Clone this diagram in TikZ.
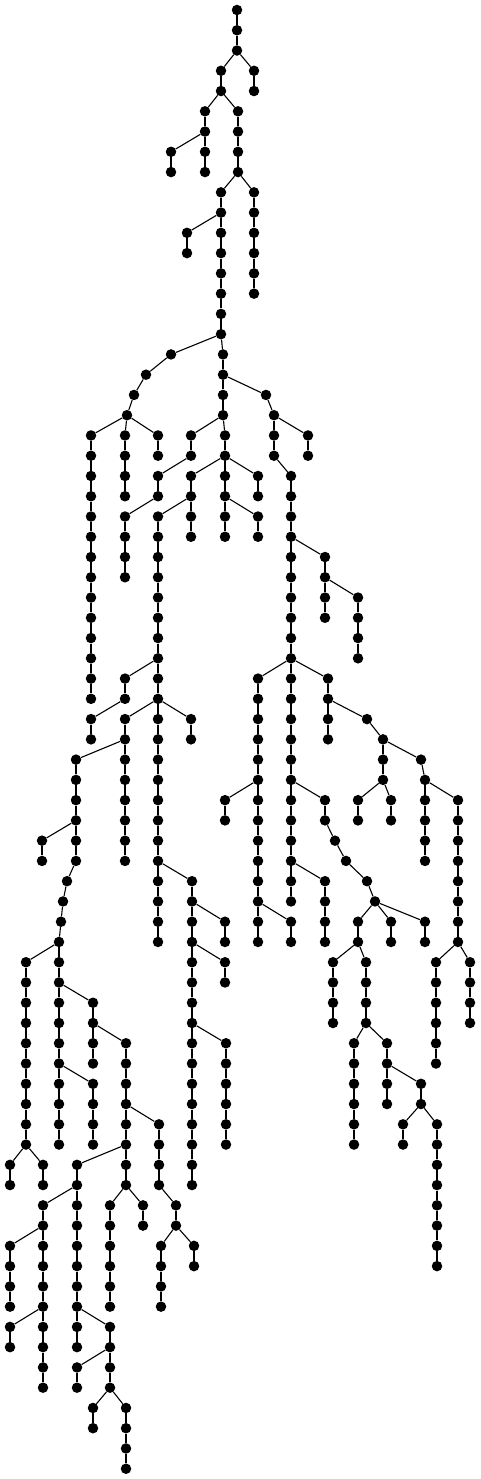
\documentclass[tikz,border=0pt]{standalone}
\usepackage{tikz}

\begin{document}
\begin{tikzpicture}[x=1pt,y=1pt,
  dot/.style={circle,fill=black,inner sep=0pt,minimum size=10.5pt},
  edge/.style={line width=1.1pt}]
\useasboundingbox (0,0) rectangle (480,-1479);
\node[dot] (n0-237) at (237,-10) {};
% parent / column / first level / last level
\foreach \p/\x/\a/\b in {
  n0-237/237/1/2, n2-237/221/3/4, n2-237/254/3/4,
  n4-221/205/5/8, n6-205/171/7/8, n4-221/238/5/8,
  n8-238/221/9/16, n8-238/254/9/14, n10-221/187/11/12,
  n16-221/171/17/17, n17-171/146/18/18, n18-146/134/19/19, n19-134/127/20/20,
  n20-127/91/21/34, n20-127/125/21/24, n20-127/158/21/22,
  n16-221/223/17/20, n18-223/266/19/19, n19-266/274/20/22, n20-274/308/21/22,
  n22-274/291/23/44, n26-291/325/27/30, n28-325/358/29/32,
  n32-291/258/33/46, n38-258/225/39/40, n44-258/291/45/46,
  n32-291/328/33/36, n34-328/367/35/35, n35-367/383/36/38,
  n38-383/358/39/40, n38-383/391/39/40, n36-383/421/37/37,
  n37-421/425/38/42, n38-425/458/39/46, n46-458/436/47/52, n46-458/470/47/50,
  n38-291/325/39/40, n40-325/335/41/41, n41-335/346/42/42,
  n42-346/367/43/43, n43-367/375/44/44,
  n44-375/358/45/46, n44-375/391/45/46, n44-375/425/45/46,
  n46-358/333/47/50, n46-358/366/47/50, n50-366/354/51/56, n50-366/387/51/54,
  n52-387/421/53/54, n54-421/403/55/56, n54-421/437/55/62,
  n42-291/325/43/46,
  n20-223/191/21/22, n22-191/158/23/24, n24-158/125/25/28,
  n20-223/225/21/26, n22-225/191/23/26, n22-225/258/23/24, n24-225/258/25/26,
  n24-191/158/25/46, n32-158/125/33/34, n34-125/91/35/36,
  n34-158/125/35/42, n36-125/76/37/42, n40-76/42/41/42,
  n42-76/67/43/43, n43-67/63/44/44, n44-63/61/45/45, n45-61/59/46/56,
  n46-59/26/47/56, n56-26/10/57/58, n56-26/43/57/58,
  n48-59/93/49/52, n50-93/126/51/58, n54-126/159/55/58,
  n58-159/176/59/60, n60-176/161/61/64, n60-176/194/61/62,
  n56-126/77/57/66, n58-77/43/59/68, n60-43/10/61/64, n64-43/10/65/66,
  n64-77/110/65/68, n66-110/77/67/68, n68-110/93/69/70, n68-110/126/69/72,
  n58-126/110/59/64, n58-126/143/59/60, n52-59/93/53/56,
  n34-158/191/35/36, n42-158/192/43/58, n44-192/225/45/46,
  n46-192/225/47/48, n50-192/226/51/56}{
  \foreach \l in {\a,...,\b}{
    \node[dot] (n\l-\x) at (\x,{-10-20.26*\l}) {};
    \ifnum\l=\a \draw[edge] (\p) -- (n\l-\x);
    \else \pgfmathtruncatemacro\q{\l-1}\draw[edge] (n\q-\x) -- (n\l-\x);
    \fi
  }
}
\end{tikzpicture}
\end{document}
